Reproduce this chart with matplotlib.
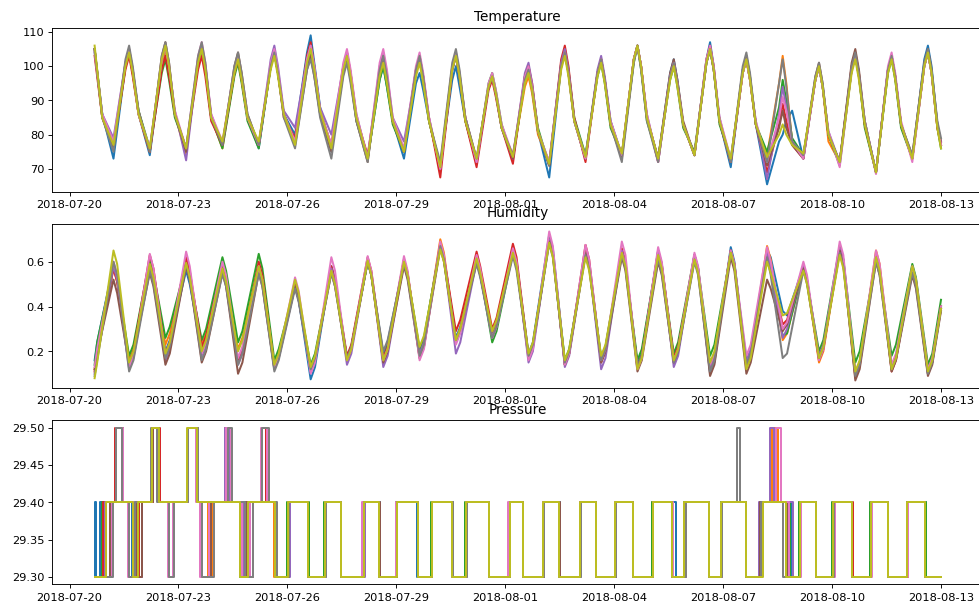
"""Sensor readings (temperature, humidity, pressure) for nine sensors,
2018-07-20 to 2018-08-13, three stacked panels.
"""
import numpy as np
from matplotlib import pyplot as plt, rcParams, dates as mdates

# Figure settings.
DPI = 82
FIGURE_SIZE = (979.3 / DPI, 608.3 / DPI)
AXES_LEFT = 0.0534
AXES_WIDTH = 0.9507
AXES_HEIGHT = 0.2695
AXES_BOTTOMS = [0.6842, 0.3618, 0.0390]
rcParams['figure.dpi'] = DPI
rcParams['savefig.dpi'] = DPI
rcParams['lines.linewidth'] = 1.75

# Time axis: readings are placed by days after this origin.
ORIGIN = np.datetime64('2018-07-20T00:00')
FIRST_DAY = 0.69
LAST_DAY = 24.0
MORNING = 0.21       # coolest / most humid time of day
LATE_MORNING = 0.31
NOON = 0.54
AFTERNOON = 0.64     # hottest / driest time of day
LATE_AFTERNOON = 0.74
DUSK = 0.76
EVENING = 0.90       # evening shoulder of the temperature curve
TICK_DATES = ['2018-07-20', '2018-07-23', '2018-07-26', '2018-07-29',
              '2018-08-01', '2018-08-04', '2018-08-07', '2018-08-10',
              '2018-08-13']

# Columns: the nine sensors, in plotting order.
# Temperature at the afternoon peak of each day (row 0 = first reading).
temp_peaks = [
    [104, 105, 105, 103, 105, 105, 104, 105, 106],
    [104, 104, 104, 103, 105, 105, 105, 106, 104],
    [105, 105, 102, 103, 106, 107, 106, 107, 106],
    [105, 106, 105, 103, 106, 106, 107, 107, 105],
    [102, 102, 101, 102, 103, 104, 103, 104, 102],
    [104, 104, 104, 104, 106, 104, 105, 104, 103],
    [109, 105, 104, 107, 106, 103, 106, 102, 105],
    [103, 104, 103, 104, 104, 102, 105, 101, 103],
    [100, 102, 100, 102, 104, 103, 105, 103, 101],
    [98, 102, 102, 103, 102, 103, 104, 103, 101],
    [100, 103, 103, 103, 103, 104, 104, 105, 103],
    [97, 97, 98, 96, 97, 97, 98, 97, 97],
    [99, 97, 99, 100, 101, 100, 100, 99, 98],
    [104, 104, 105, 106, 105, 104, 104, 104, 103],
    [102, 102, 101, 102, 103, 102, 102, 102, 101],
    [106, 106, 106, 106, 106, 106, 106, 106, 106],
    [102, 101, 100, 101, 101, 102, 101, 101, 100],
    [107, 105, 105, 106, 105, 105, 106, 105, 105],
    [103, 102, 102, 102, 102, 103, 102, 104, 102],
    [80, 103, 96, 89, 94, 87, 91, 102, 83],
    [100, 100, 100, 100, 100, 101, 100, 101, 100],
    [103, 103, 103, 104, 103, 105, 103, 104, 102],
    [103, 103, 102, 103, 103, 103, 104, 103, 102],
    [106, 104, 104, 104, 104, 105, 104, 105, 104],
]
# Temperature shortly before the peak, days 1..23.
temp_noon = [
    [100, 100, 100, 99, 101, 101, 101, 102, 100],
    [101, 101, 98, 99, 102, 103, 102, 103, 102],
    [101, 102, 101, 99, 102, 102, 103, 103, 101],
    [98, 98, 97, 98, 99, 100, 99, 100, 98],
    [100, 100, 100, 100, 102, 100, 101, 100, 99],
    [104, 101, 100, 103, 102, 99, 102, 99, 101],
    [99, 100, 99, 100, 100, 98, 101, 97, 99],
    [96, 98, 96, 98, 100, 99, 101, 99, 97],
    [95, 98, 98, 99, 98, 99, 100, 99, 97],
    [96, 99, 99, 99, 99, 100, 100, 101, 99],
    [94, 94, 95, 93, 94, 94, 95, 94, 94],
    [96, 94, 96, 97, 98, 97, 97, 96, 95],
    [100, 100, 101, 102, 101, 100, 100, 100, 99],
    [98, 98, 97, 98, 99, 98, 98, 98, 97],
    [102, 102, 101, 102, 102, 102, 102, 101, 102],
    [98, 97, 96, 97, 97, 98, 97, 97, 96],
    [102, 101, 101, 102, 101, 101, 102, 101, 101],
    [99, 98, 98, 98, 98, 99, 98, 100, 98],
    [78, 95, 88, 83, 86, 82, 85, 95, 80],
    [96, 96, 96, 96, 96, 97, 96, 97, 96],
    [99, 99, 99, 100, 99, 101, 99, 100, 98],
    [99, 99, 98, 99, 99, 99, 100, 99, 98],
    [102, 100, 100, 100, 100, 101, 100, 101, 100],
]
# Temperature shortly after the peak, days 1..23.
temp_late_afternoon = [
    [98, 98, 98, 97, 99, 99, 99, 100, 98],
    [99, 99, 96, 97, 100, 101, 100, 101, 100],
    [99, 100, 99, 97, 100, 100, 101, 101, 99],
    [96, 96, 95, 96, 97, 98, 97, 98, 96],
    [98, 98, 98, 98, 100, 98, 99, 98, 97],
    [101, 99, 98, 100, 100, 97, 100, 97, 99],
    [97, 98, 97, 98, 98, 96, 99, 95, 97],
    [94, 96, 94, 96, 98, 97, 99, 97, 95],
    [93, 96, 96, 97, 96, 97, 98, 97, 95],
    [94, 97, 97, 97, 97, 98, 98, 99, 97],
    [92, 92, 93, 91, 92, 92, 93, 92, 92],
    [93, 92, 94, 95, 95, 94, 94, 93, 93],
    [98, 98, 99, 100, 99, 98, 98, 98, 97],
    [96, 96, 95, 96, 97, 96, 96, 96, 95],
    [100, 100, 99, 100, 100, 100, 100, 99, 100],
    [96, 95, 94, 95, 95, 96, 95, 95, 94],
    [100, 99, 99, 100, 99, 99, 100, 99, 99],
    [97, 96, 96, 96, 96, 97, 96, 98, 96],
    [84, 95, 90, 84, 88, 82, 87, 94, 80],
    [94, 94, 94, 94, 94, 95, 94, 95, 94],
    [97, 97, 97, 98, 97, 99, 97, 98, 96],
    [97, 97, 96, 97, 97, 97, 98, 97, 96],
    [100, 98, 98, 98, 98, 99, 98, 99, 98],
]
# Temperature at the morning low, days 1..23.
temp_troughs = [
    [73, 76, 76, 77, 79, 76, 78, 75, 77],
    [74, 75, 76, 75, 76, 75, 76, 75, 76],
    [75, 74, 76, 76, 72.5, 75, 76, 76, 76],
    [77, 76, 76, 77, 77, 77, 78, 77, 78],
    [76, 77, 76, 77, 77, 77, 77, 77, 78],
    [80, 78, 78, 79, 82, 77, 78, 76, 77],
    [75, 76, 76, 77, 80, 75, 77, 73, 76],
    [73, 73, 73, 74, 73, 72, 73, 72, 73],
    [73, 75, 75, 75, 78, 75, 76, 75, 75],
    [71, 70, 70, 67.5, 70, 71, 70, 72, 70.5],
    [72, 72, 72, 70.5, 72, 73, 72, 73, 73],
    [73, 74, 73, 71.5, 73, 73, 74, 74, 73.5],
    [67.5, 72, 71, 71, 72, 71, 72, 71, 71.5],
    [73, 73, 74, 72, 73, 73, 73, 74, 73.5],
    [74, 74, 74, 73, 74, 74, 74, 72, 74.5],
    [73, 73, 73, 72, 72, 73, 72, 72, 73],
    [74, 74, 75, 74, 74, 74, 74, 74, 74],
    [70.5, 72, 73, 72, 72, 72, 73, 72, 73],
    [65.5, 74, 75, 69, 67, 71, 72, 72, 73.5],
    [73, 74, 74, 73, 74, 73, 73, 74, 74.5],
    [72, 72, 71, 72, 72, 72, 70.5, 72, 72],
    [69, 69, 69, 69, 69, 69, 68.5, 69, 69],
    [73, 73, 73, 73, 73, 74, 72, 74, 73],
]
# Temperature in the evening, days 0..23.
temp_evening = [
    [86, 85, 86, 85, 86, 85, 86, 85, 85],
    [86, 86, 87, 86, 86, 87, 86, 87, 86],
    [86, 86, 85, 86, 87, 86, 87, 86, 86],
    [85, 85, 85, 84, 86, 85, 86, 85, 85],
    [85, 85, 84, 85, 85, 86, 85, 86, 85],
    [86, 86, 86, 85, 87, 86, 86, 85, 86],
    [88, 87, 86, 87, 88, 86, 87, 85, 87],
    [85, 85, 84, 85, 86, 84, 86, 84, 85],
    [84, 84, 83, 84, 85, 84, 85, 84, 84],
    [84, 84, 84, 85, 85, 84, 85, 84, 84],
    [84, 85, 84, 84, 85, 85, 85, 85, 84],
    [82, 82, 83, 82, 82, 82, 83, 82, 82],
    [81, 80, 82, 81, 81, 81, 81, 81, 81],
    [84, 84, 85, 85, 84, 84, 84, 84, 84],
    [84, 83, 82, 83, 84, 83, 84, 83, 83],
    [85, 85, 84, 85, 86, 85, 86, 84, 85],
    [83, 83, 82, 83, 83, 84, 83, 83, 83],
    [84, 84, 83, 84, 85, 84, 85, 84, 84],
    [83, 83, 83, 83, 84, 83, 84, 83, 83],
    [87, 78, 79, 77, 78, 77, 78, 78, 77],
    [80, 78, 80, 80, 81, 80, 81, 80, 80],
    [83, 83, 82, 83, 84, 84, 84, 84, 83],
    [83, 83, 82, 83, 83, 83, 84, 83, 83],
    [83, 82, 82, 82, 83, 83, 83, 84, 82],
]
temp_last = [77, 77, 76, 77, 78, 78, 77, 79, 76]

# Humidity at the afternoon low of each day (row 0 = first reading).
hum_lows = [
    [0.16, 0.12, 0.14, 0.11, 0.10, 0.12, 0.13, 0.09, 0.08],
    [0.15, 0.16, 0.18, 0.15, 0.12, 0.14, 0.13, 0.11, 0.15],
    [0.20, 0.23, 0.26, 0.19, 0.16, 0.14, 0.18, 0.17, 0.19],
    [0.21, 0.23, 0.25, 0.22, 0.18, 0.15, 0.19, 0.16, 0.20],
    [0.15, 0.21, 0.24, 0.16, 0.14, 0.10, 0.17, 0.14, 0.20],
    [0.13, 0.14, 0.16, 0.13, 0.12, 0.12, 0.13, 0.11, 0.14],
    [0.075, 0.11, 0.14, 0.12, 0.11, 0.12, 0.10, 0.12, 0.13],
    [0.17, 0.17, 0.17, 0.18, 0.14, 0.16, 0.16, 0.17, 0.16],
    [0.19, 0.15, 0.17, 0.17, 0.13, 0.15, 0.16, 0.20, 0.16],
    [0.20, 0.18, 0.21, 0.17, 0.19, 0.17, 0.16, 0.18, 0.22],
    [0.26, 0.25, 0.24, 0.29, 0.19, 0.24, 0.23, 0.25, 0.25],
    [0.27, 0.28, 0.24, 0.30, 0.26, 0.27, 0.26, 0.26, 0.29],
    [0.19, 0.17, 0.18, 0.18, 0.15, 0.17, 0.16, 0.18, 0.19],
    [0.15, 0.14, 0.16, 0.14, 0.13, 0.14, 0.14, 0.15, 0.16],
    [0.17, 0.16, 0.17, 0.15, 0.12, 0.15, 0.16, 0.16, 0.18],
    [0.14, 0.13, 0.16, 0.13, 0.12, 0.11, 0.12, 0.13, 0.12],
    [0.16, 0.17, 0.19, 0.17, 0.13, 0.15, 0.16, 0.15, 0.16],
    [0.10, 0.12, 0.18, 0.13, 0.12, 0.09, 0.14, 0.11, 0.15],
    [0.13, 0.14, 0.15, 0.13, 0.16, 0.10, 0.18, 0.14, 0.12],
    [0.38, 0.25, 0.27, 0.32, 0.26, 0.29, 0.30, 0.17, 0.36],
    [0.17, 0.15, 0.20, 0.16, 0.18, 0.17, 0.16, 0.17, 0.17],
    [0.10, 0.08, 0.15, 0.09, 0.10, 0.07, 0.10, 0.09, 0.11],
    [0.13, 0.12, 0.18, 0.11, 0.12, 0.11, 0.14, 0.12, 0.12],
    [0.10, 0.12, 0.14, 0.11, 0.10, 0.09, 0.12, 0.10, 0.11],
]
# Humidity a little after the low, days 0..23 (rising).
hum_dusk = [
    [0.24, 0.20, 0.24, 0.19, 0.17, 0.19, 0.21, 0.16, 0.15],
    [0.20, 0.21, 0.23, 0.20, 0.17, 0.19, 0.18, 0.16, 0.20],
    [0.25, 0.28, 0.31, 0.24, 0.21, 0.19, 0.23, 0.22, 0.24],
    [0.26, 0.28, 0.30, 0.27, 0.23, 0.20, 0.24, 0.21, 0.25],
    [0.20, 0.26, 0.29, 0.21, 0.19, 0.15, 0.22, 0.19, 0.25],
    [0.18, 0.19, 0.21, 0.18, 0.17, 0.17, 0.18, 0.16, 0.19],
    [0.13, 0.16, 0.19, 0.17, 0.16, 0.17, 0.15, 0.17, 0.18],
    [0.22, 0.22, 0.22, 0.23, 0.19, 0.21, 0.21, 0.22, 0.21],
    [0.24, 0.20, 0.22, 0.22, 0.18, 0.20, 0.21, 0.25, 0.21],
    [0.25, 0.23, 0.26, 0.22, 0.24, 0.22, 0.21, 0.23, 0.27],
    [0.31, 0.30, 0.29, 0.34, 0.24, 0.29, 0.28, 0.30, 0.30],
    [0.32, 0.33, 0.29, 0.35, 0.31, 0.32, 0.31, 0.31, 0.34],
    [0.24, 0.22, 0.23, 0.23, 0.20, 0.22, 0.21, 0.23, 0.24],
    [0.20, 0.19, 0.21, 0.19, 0.18, 0.19, 0.19, 0.20, 0.21],
    [0.22, 0.21, 0.22, 0.20, 0.17, 0.20, 0.21, 0.21, 0.23],
    [0.19, 0.18, 0.21, 0.18, 0.17, 0.16, 0.17, 0.18, 0.17],
    [0.21, 0.22, 0.24, 0.22, 0.18, 0.20, 0.21, 0.20, 0.21],
    [0.15, 0.17, 0.23, 0.18, 0.17, 0.14, 0.19, 0.16, 0.20],
    [0.18, 0.19, 0.20, 0.18, 0.21, 0.15, 0.23, 0.19, 0.17],
    [0.36, 0.28, 0.28, 0.34, 0.30, 0.32, 0.33, 0.19, 0.37],
    [0.22, 0.20, 0.25, 0.21, 0.23, 0.22, 0.21, 0.22, 0.22],
    [0.15, 0.13, 0.20, 0.14, 0.15, 0.12, 0.15, 0.14, 0.16],
    [0.18, 0.17, 0.23, 0.16, 0.17, 0.16, 0.19, 0.17, 0.17],
    [0.15, 0.17, 0.19, 0.16, 0.15, 0.14, 0.17, 0.15, 0.16],
]
# Humidity at the morning high, days 1..23.
hum_highs = [
    [0.59, 0.57, 0.58, 0.57, 0.58, 0.52, 0.60, 0.60, 0.65],
    [0.57, 0.60, 0.61, 0.63, 0.58, 0.55, 0.635, 0.56, 0.59],
    [0.56, 0.60, 0.59, 0.62, 0.58, 0.58, 0.645, 0.59, 0.595],
    [0.56, 0.58, 0.62, 0.58, 0.56, 0.55, 0.60, 0.545, 0.57],
    [0.58, 0.59, 0.635, 0.60, 0.56, 0.55, 0.58, 0.545, 0.58],
    [0.49, 0.50, 0.49, 0.50, 0.49, 0.49, 0.53, 0.48, 0.52],
    [0.58, 0.57, 0.56, 0.58, 0.57, 0.55, 0.62, 0.55, 0.56],
    [0.60, 0.61, 0.60, 0.62, 0.61, 0.60, 0.625, 0.60, 0.605],
    [0.60, 0.61, 0.60, 0.61, 0.60, 0.58, 0.625, 0.59, 0.60],
    [0.68, 0.70, 0.67, 0.68, 0.67, 0.66, 0.69, 0.67, 0.655],
    [0.60, 0.62, 0.61, 0.645, 0.60, 0.60, 0.63, 0.59, 0.615],
    [0.66, 0.65, 0.64, 0.68, 0.65, 0.64, 0.66, 0.625, 0.64],
    [0.72, 0.70, 0.70, 0.70, 0.70, 0.69, 0.735, 0.68, 0.685],
    [0.65, 0.65, 0.64, 0.675, 0.64, 0.64, 0.675, 0.63, 0.62],
    [0.65, 0.65, 0.64, 0.66, 0.65, 0.62, 0.69, 0.63, 0.64],
    [0.65, 0.64, 0.64, 0.65, 0.64, 0.60, 0.665, 0.61, 0.63],
    [0.63, 0.63, 0.63, 0.62, 0.63, 0.61, 0.64, 0.60, 0.61],
    [0.665, 0.65, 0.64, 0.65, 0.65, 0.62, 0.65, 0.64, 0.64],
    [0.65, 0.67, 0.64, 0.63, 0.64, 0.52, 0.665, 0.62, 0.60],
    [0.58, 0.57, 0.57, 0.58, 0.58, 0.57, 0.60, 0.56, 0.56],
    [0.67, 0.65, 0.67, 0.66, 0.66, 0.65, 0.69, 0.64, 0.63],
    [0.63, 0.65, 0.61, 0.63, 0.62, 0.60, 0.65, 0.60, 0.62],
    [0.58, 0.57, 0.59, 0.57, 0.56, 0.54, 0.58, 0.55, 0.58],
]
# Humidity a little after the high, days 1..23 (falling).
hum_late_morning = [
    [0.53, 0.51, 0.52, 0.51, 0.52, 0.46, 0.54, 0.54, 0.59],
    [0.51, 0.54, 0.55, 0.57, 0.52, 0.49, 0.57, 0.50, 0.53],
    [0.50, 0.54, 0.53, 0.56, 0.52, 0.52, 0.58, 0.53, 0.53],
    [0.50, 0.52, 0.56, 0.52, 0.50, 0.49, 0.54, 0.49, 0.51],
    [0.52, 0.53, 0.57, 0.54, 0.50, 0.49, 0.52, 0.49, 0.52],
    [0.43, 0.44, 0.43, 0.44, 0.43, 0.43, 0.47, 0.42, 0.46],
    [0.52, 0.51, 0.50, 0.52, 0.51, 0.49, 0.56, 0.49, 0.50],
    [0.54, 0.55, 0.54, 0.56, 0.55, 0.54, 0.56, 0.54, 0.54],
    [0.54, 0.55, 0.54, 0.55, 0.54, 0.52, 0.56, 0.53, 0.54],
    [0.62, 0.64, 0.61, 0.62, 0.61, 0.60, 0.63, 0.61, 0.60],
    [0.54, 0.56, 0.55, 0.58, 0.54, 0.54, 0.57, 0.53, 0.55],
    [0.60, 0.59, 0.58, 0.62, 0.59, 0.58, 0.60, 0.56, 0.58],
    [0.66, 0.64, 0.64, 0.64, 0.64, 0.63, 0.67, 0.62, 0.62],
    [0.59, 0.59, 0.58, 0.61, 0.58, 0.58, 0.61, 0.57, 0.56],
    [0.59, 0.59, 0.58, 0.60, 0.59, 0.56, 0.63, 0.57, 0.58],
    [0.59, 0.58, 0.58, 0.59, 0.58, 0.54, 0.60, 0.55, 0.57],
    [0.57, 0.57, 0.57, 0.56, 0.57, 0.55, 0.58, 0.54, 0.55],
    [0.60, 0.59, 0.58, 0.59, 0.59, 0.56, 0.59, 0.58, 0.58],
    [0.62, 0.61, 0.56, 0.56, 0.57, 0.48, 0.60, 0.54, 0.55],
    [0.52, 0.51, 0.51, 0.52, 0.52, 0.51, 0.54, 0.50, 0.50],
    [0.61, 0.59, 0.61, 0.60, 0.60, 0.59, 0.63, 0.58, 0.57],
    [0.57, 0.59, 0.55, 0.57, 0.56, 0.54, 0.59, 0.54, 0.56],
    [0.52, 0.51, 0.53, 0.51, 0.50, 0.48, 0.52, 0.49, 0.52],
]
hum_last = [0.40, 0.39, 0.43, 0.40, 0.39, 0.38, 0.40, 0.39, 0.39]

# Pressure: base level, and day intervals at the middle / top level.
PRESSURE_LEVELS = [29.3, 29.4, 29.5]
pressure_mid_early = [
    [[0.70, 0.72], [0.83, 1.71], [1.85, 4.72], [4.90, 5.67]],
    [[0.94, 1.77], [1.88, 3.80], [3.93, 4.72], [4.93, 5.64]],
    [[0.89, 1.75], [1.87, 4.70], [4.90, 5.68]],
    [[0.92, 1.80], [1.90, 4.74], [4.92, 5.67]],
    [[0.97, 1.87], [2.00, 3.64], [3.88, 4.78], [4.95, 5.68]],
    [[1.12, 1.84], [1.99, 2.74], [2.86, 3.63], [3.90, 4.90], [5.06, 5.69]],
    [[1.17, 1.61], [1.76, 2.71], [2.84, 3.60], [3.83, 4.75], [4.98, 5.67]],
    [[1.19, 1.64], [1.80, 2.73], [2.87, 3.65], [3.97, 4.83], [5.06, 5.70]],
    [[0.99, 1.74], [1.88, 4.69], [4.92, 5.66]],
]
pressure_mid_late = [
    [[6.05, 6.58], [7.04, 7.48], [8.12, 8.55], [9.02, 9.58], [9.98, 10.56],
     [10.93, 11.56], [12.13, 12.49], [13.06, 13.50], [14.07, 14.51],
     [15.04, 15.53], [16.07, 16.70], [16.97, 17.61], [17.95, 18.63],
     [19.06, 19.90], [20.12, 20.56], [21.03, 21.56], [22.07, 22.55],
     [23.07, 23.58]],
    [[6.03, 6.57], [7.03, 7.47], [8.11, 8.53], [9.01, 9.60], [9.97, 10.54],
     [10.92, 11.55], [12.12, 12.48], [13.05, 13.49], [14.06, 14.50],
     [15.03, 15.51], [16.05, 16.59], [16.95, 17.60], [17.98, 18.62],
     [19.08, 19.78], [20.08, 20.55], [21.02, 21.56], [22.06, 22.54],
     [23.06, 23.57]],
    [[6.00, 6.60], [7.02, 7.47], [8.10, 8.53], [9.00, 9.60], [9.96, 10.54],
     [10.90, 11.55], [12.10, 12.49], [13.03, 13.49], [14.05, 14.50],
     [15.02, 15.51], [16.04, 16.59], [16.93, 17.60], [17.93, 18.64],
     [19.08, 19.85], [20.10, 20.55], [21.00, 21.55], [22.05, 22.54],
     [23.05, 23.58]],
    [[6.03, 6.56], [7.04, 7.47], [8.12, 8.53], [9.02, 9.60], [9.98, 10.54],
     [10.93, 11.55], [12.14, 12.50], [13.06, 13.49], [14.07, 14.50],
     [15.04, 15.52], [16.07, 16.59], [16.96, 17.60], [17.96, 18.62],
     [19.07, 19.80], [20.11, 20.56], [21.04, 21.57], [22.08, 22.55],
     [23.08, 23.57]],
    [[6.06, 6.56], [7.05, 7.47], [8.13, 8.53], [9.03, 9.60], [9.99, 10.55],
     [10.95, 11.55], [12.13, 12.48], [13.07, 13.49], [14.08, 14.50],
     [15.05, 15.51], [16.08, 16.59], [16.98, 17.60], [17.97, 18.62],
     [19.00, 19.92], [20.12, 20.55], [21.03, 21.55], [22.07, 22.54],
     [23.07, 23.57]],
    [[6.04, 6.57], [7.04, 7.47], [8.12, 8.54], [9.02, 9.60], [9.99, 10.54],
     [10.93, 11.56], [12.13, 12.48], [13.06, 13.50], [14.07, 14.51],
     [15.04, 15.51], [16.07, 16.60], [16.97, 17.61], [17.96, 18.62],
     [19.02, 19.80], [20.11, 20.55], [21.03, 21.55], [22.07, 22.55],
     [23.07, 23.57]],
    [[6.02, 6.56], [7.03, 7.47], [8.05, 8.53], [8.98, 9.60], [9.97, 10.54],
     [10.92, 11.55], [12.08, 12.50], [13.05, 13.49], [14.06, 14.50],
     [15.03, 15.51], [16.06, 16.62], [16.98, 17.60], [17.96, 18.62],
     [19.06, 19.82], [20.14, 20.55], [21.08, 21.55], [22.10, 22.54],
     [23.09, 23.57]],
    [[6.05, 6.56], [7.05, 7.47], [8.12, 8.53], [9.02, 9.60], [9.99, 10.55],
     [10.94, 11.56], [12.14, 12.48], [13.07, 13.49], [14.08, 14.50],
     [15.05, 15.51], [16.07, 16.59], [16.98, 17.62], [17.96, 18.62],
     [19.04, 19.65], [20.12, 20.55], [21.04, 21.55], [22.07, 22.54],
     [23.07, 23.57]],
    [[6.02, 6.56], [7.03, 7.47], [8.11, 8.53], [9.01, 9.60], [9.97, 10.54],
     [10.92, 11.55], [12.12, 12.48], [13.05, 13.49], [14.06, 14.50],
     [15.03, 15.51], [16.06, 16.59], [16.93, 17.60], [17.94, 18.62],
     [19.10, 19.74], [20.12, 20.55], [21.02, 21.55], [22.06, 22.54],
     [23.06, 23.57]],
]
pressure_top = [
    [[2.28, 2.44], [3.25, 3.50]],
    [[1.27, 1.45], [2.29, 2.47], [3.26, 3.50], [19.35, 19.50]],
    [[2.28, 2.46], [3.26, 3.52]],
    [[1.25, 1.47], [2.31, 2.50], [3.27, 3.51], [4.27, 4.38], [5.29, 5.42]],
    [[2.28, 2.45], [3.26, 3.50], [4.29, 4.42], [5.30, 5.45], [19.28, 19.40]],
    [[1.28, 1.46], [2.30, 2.47], [3.27, 3.53]],
    [[1.28, 1.47], [2.27, 2.44], [3.25, 3.49], [4.30, 4.44], [5.28, 5.43],
     [19.45, 19.58]],
    [[1.29, 1.44], [2.25, 2.42], [3.27, 3.54], [4.35, 4.47], [5.30, 5.48],
     [18.39, 18.46]],
    [[2.27, 2.45], [3.24, 3.50]],
]

NUM_SENSORS = 9


def to_dates(days):
    """Converts days after ORIGIN to datetime64 values."""
    seconds = np.round(np.asarray(days, dtype=float) * 86400).astype(np.int64)
    return ORIGIN + seconds.astype('timedelta64[s]')


def temperature_series(n):
    days = [FIRST_DAY, EVENING]
    values = [temp_peaks[0][n], temp_evening[0][n]]
    for k in range(1, 24):
        days += [k + MORNING, k + NOON, k + AFTERNOON, k + LATE_AFTERNOON,
                 k + EVENING]
        values += [temp_troughs[k-1][n], temp_noon[k-1][n], temp_peaks[k][n],
                   temp_late_afternoon[k-1][n], temp_evening[k][n]]
    days.append(LAST_DAY)
    values.append(temp_last[n])
    return to_dates(days), values


def humidity_series(n):
    days = [FIRST_DAY, DUSK]
    values = [hum_lows[0][n], hum_dusk[0][n]]
    for k in range(1, 24):
        days += [k + MORNING, k + LATE_MORNING, k + AFTERNOON, k + DUSK]
        values += [hum_highs[k-1][n], hum_late_morning[k-1][n],
                   hum_lows[k][n], hum_dusk[k][n]]
    days.append(LAST_DAY)
    values.append(hum_last[n])
    return to_dates(days), values


def pressure_series(n):
    mid = pressure_mid_early[n] + pressure_mid_late[n]
    top = pressure_top[n]
    edges = sorted({FIRST_DAY, LAST_DAY} | {d for iv in mid + top for d in iv})
    levels = []
    for d in edges:
        if any(a <= d < b for a, b in top):
            levels.append(PRESSURE_LEVELS[2])
        elif any(a <= d < b for a, b in mid):
            levels.append(PRESSURE_LEVELS[1])
        else:
            levels.append(PRESSURE_LEVELS[0])
    return to_dates(edges), levels


fig = plt.figure(figsize=FIGURE_SIZE)
axes = [fig.add_axes([AXES_LEFT, b, AXES_WIDTH, AXES_HEIGHT])
        for b in AXES_BOTTOMS]

for n in range(NUM_SENSORS):
    axes[0].plot(*temperature_series(n))
    axes[1].plot(*humidity_series(n))
    axes[2].plot(*pressure_series(n), drawstyle='steps-post')

axes[0].set_title('Temperature')
axes[1].set_title('Humidity')
axes[2].set_title('Pressure')
axes[0].set_yticks([70, 80, 90, 100, 110])
axes[1].set_yticks([0.2, 0.4, 0.6])
axes[2].set_yticks([29.30, 29.35, 29.40, 29.45, 29.50])
axes[2].yaxis.set_major_formatter(plt.FormatStrFormatter('%.2f'))

ticks = np.array(TICK_DATES, dtype='datetime64[s]')
for ax in axes:
    ax.set_xticks(ticks)
    ax.xaxis.set_major_formatter(mdates.DateFormatter('%Y-%m-%d'))

fig.savefig('out.png')
plt.close(fig)
